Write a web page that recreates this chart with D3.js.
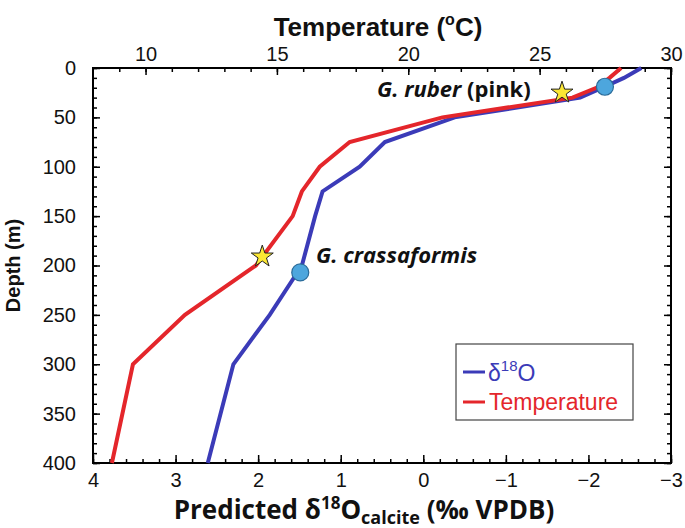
<!DOCTYPE html>
<html><head><meta charset="utf-8">
<script src="https://cdn.jsdelivr.net/npm/d3@7"></script>
<style>body{margin:0;background:#fff;}svg{display:block;}</style>
</head><body>
<svg id="chart" width="685" height="528"></svg>
<script>
// ---- data ----
const depths = [0,10,20,30,50,75,100,125,150,200,250,300,400];
const d18O   = [-2.64,-2.43,-2.17,-1.90,-0.38,0.465,0.77,1.22,1.31,1.47,1.86,2.30,2.61];
const tempC  = [28.1,27.66,27.16,26.25,21.3,17.77,16.63,15.95,15.6,14.2,11.5,9.52,8.72];
const starPts   = [{d:-1.68, z:25},{d:1.95, z:191}];
const circlePts = [{d:-2.20, z:19},{d:1.49, z:207}];
const xTicks = [4,3,2,1,0,-1,-2,-3];
const tTicks = [10,15,20,25,30];
const yTicks = [0,50,100,150,200,250,300,350,400];

const svg = d3.select('#chart');
const L=93, R=671, T=68, B=463;
const x  = d3.scaleLinear().domain([4,-3]).range([L,R]);
const xT = d3.scaleLinear().domain([8,30]).range([L,R]);
const y  = d3.scaleLinear().domain([0,400]).range([T,B]);
const font = 'Liberation Sans, Arial, Helvetica, sans-serif';
const font2 = '"Open Sans", "Noto Sans", sans-serif';

function tickAxis(g, axis){ g.call(axis); g.select('.domain').remove(); g.selectAll('line').attr('stroke','#000').attr('stroke-width',1.5); }
// bottom
const minorX = d3.range(4,-3.0001,-0.2);
tickAxis(svg.append('g').attr('transform',`translate(0,${B})`), d3.axisBottom(x).tickValues(minorX).tickSize(-4).tickFormat(''));
const gb = svg.append('g').attr('transform',`translate(0,${B})`);
tickAxis(gb, d3.axisBottom(x).tickValues(xTicks).tickSize(-8).tickPadding(10).tickFormat(d=>d===0?'0':d3.format('d')(d)));
gb.selectAll('text').attr('font-family',font).attr('font-size',20).attr('fill','#111');
// top
tickAxis(svg.append('g').attr('transform',`translate(0,${T})`), d3.axisTop(xT).tickValues(d3.range(9,31,1)).tickSize(-4).tickFormat(''));
const gt = svg.append('g').attr('transform',`translate(0,${T})`);
tickAxis(gt, d3.axisTop(xT).tickValues(tTicks).tickSize(-7).tickPadding(7));
gt.selectAll('text').attr('font-family',font).attr('font-size',20).attr('fill','#111');
// left
tickAxis(svg.append('g').attr('transform',`translate(${L},0)`), d3.axisLeft(y).tickValues(d3.range(0,401,10)).tickSize(-4).tickFormat(''));
const gl = svg.append('g').attr('transform',`translate(${L},0)`);
tickAxis(gl, d3.axisLeft(y).tickValues(yTicks).tickSize(-7).tickPadding(17));
gl.selectAll('text').attr('font-family',font).attr('font-size',20).attr('fill','#111');
// right
tickAxis(svg.append('g').attr('transform',`translate(${R},0)`), d3.axisRight(y).tickValues(d3.range(0,401,10)).tickSize(-4).tickFormat(''));
tickAxis(svg.append('g').attr('transform',`translate(${R},0)`), d3.axisRight(y).tickValues(yTicks).tickSize(-7).tickFormat(''));

// frame
svg.append('rect').attr('x',L).attr('y',T).attr('width',R-L).attr('height',B-T)
  .attr('fill','none').attr('stroke','#000').attr('stroke-width',2);

// lines
const lineD = d3.line().x(d=>x(d)).y((d,i)=>y(depths[i]));
const lineT = d3.line().x(d=>xT(d)).y((d,i)=>y(depths[i]));
svg.append('path').datum(d18O).attr('d',lineD).attr('fill','none').attr('stroke','#3b3bb8').attr('stroke-width',4).attr('stroke-linejoin','miter');
svg.append('path').datum(tempC).attr('d',lineT).attr('fill','none').attr('stroke','#e4262b').attr('stroke-width',4).attr('stroke-linejoin','miter');

// markers
const star = d3.symbol().type(d3.symbolStar).size(150);
svg.selectAll('.star').data(starPts).join('path').attr('class','star')
  .attr('d',star).attr('transform',d=>`translate(${x(d.d)},${y(d.z)})`)
  .attr('fill','#fbe734').attr('stroke','#222').attr('stroke-width',1);
svg.selectAll('.circ').data(circlePts).join('circle').attr('class','circ')
  .attr('cx',d=>x(d.d)).attr('cy',d=>y(d.z)).attr('r',8.5)
  .attr('fill','#4da6dd').attr('stroke','#2a6b99').attr('stroke-width',1.2);

// annotations
const a1 = svg.append('text').attr('x',377).attr('y',97).attr('font-family',font2).attr('font-weight','bold').attr('font-size',22).attr('fill','#111');
a1.append('tspan').attr('font-style','italic').text('G. ruber');
a1.append('tspan').text(' (pink)');
svg.append('text').attr('x',316).attr('y',263).attr('font-family',font2).attr('font-weight','bold').attr('font-style','italic').attr('font-size',22).attr('fill','#111').text('G. crassaformis');

// titles
const tt = svg.append('text').attr('x',378).attr('y',36).attr('text-anchor','middle').attr('font-family',font).attr('font-weight','bold').attr('font-size',26).attr('fill','#111');
tt.append('tspan').text('Temperature (');
tt.append('tspan').attr('font-size',16).attr('dy',-11).text('o');
tt.append('tspan').attr('dy',11).text('C)');

svg.append('text').attr('transform',`translate(20,${(T+B)/2}) rotate(-90)`).attr('text-anchor','middle')
  .attr('font-family',font).attr('font-weight','bold').attr('font-size',20).attr('fill','#111').text('Depth (m)');

const bt = svg.append('text').attr('x',364).attr('y',519).attr('text-anchor','middle').attr('font-family',font2).attr('font-weight','bold').attr('font-size',26).attr('fill','#111');
bt.append('tspan').text('Predicted δ');
bt.append('tspan').attr('font-size',17).attr('dy',-10).text('18');
bt.append('tspan').attr('dy',10).text('O');
bt.append('tspan').attr('font-size',18).attr('dy',5).text('calcite');
bt.append('tspan').attr('dy',-5).text(' (‰ VPDB)');

// legend
const lg = svg.append('g');
lg.append('rect').attr('x',456).attr('y',344).attr('width',177).attr('height',76).attr('fill','#fff').attr('stroke','#444').attr('stroke-width',1.2);
lg.append('line').attr('x1',463).attr('x2',485).attr('y1',372).attr('y2',372).attr('stroke','#3b3bb8').attr('stroke-width',3);
lg.append('line').attr('x1',463).attr('x2',485).attr('y1',402).attr('y2',402).attr('stroke','#e4262b').attr('stroke-width',3);
const l1 = lg.append('text').attr('x',488).attr('y',381).attr('font-family',font).attr('font-size',23).attr('fill','#3b3bb8');
l1.append('tspan').text('δ');
l1.append('tspan').attr('font-size',15).attr('dy',-10).text('18');
l1.append('tspan').attr('dy',10).text('O');
lg.append('text').attr('x',489).attr('y',410).attr('font-family',font).attr('font-size',23).attr('fill','#e4262b').text('Temperature');
</script>
</body></html>
